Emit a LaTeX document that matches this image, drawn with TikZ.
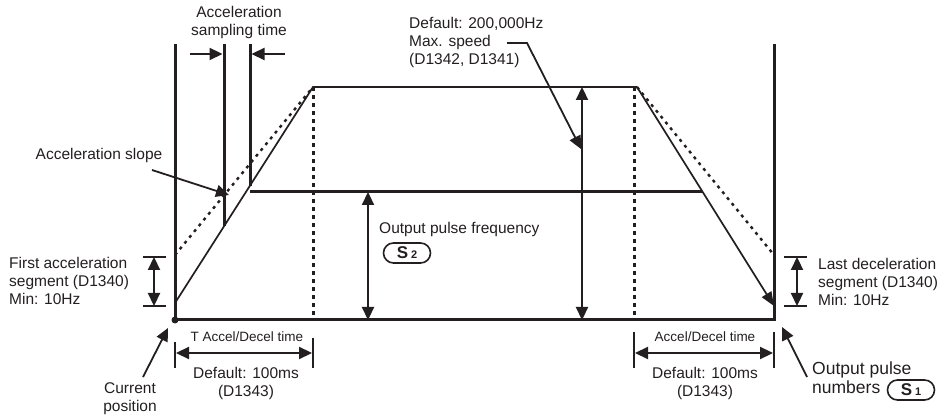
\documentclass[tikz,border=0pt]{standalone}
\usepackage{fontspec}
\setmainfont{Liberation Sans}
\usetikzlibrary{arrows.meta}
\definecolor{ink}{RGB}{35,31,32}
\begin{document}
\begin{tikzpicture}[x=1pt,y=-1pt,
  thickline/.style={draw=ink,line width=3pt},
  rampline/.style={draw=ink,line width=1.7pt},
  dashramp/.style={draw=ink,line width=2.4pt,dash pattern=on 3pt off 4.5pt},
  dotv/.style={draw=ink,line width=3pt,dash pattern=on 4pt off 4pt},
  tip/.style={Triangle[length=13pt,width=12pt]},
  arr/.style={draw=ink,line width=2.2pt,-{Triangle[length=13pt,width=12pt]}},
  darr/.style={draw=ink,line width=2.2pt,{Triangle[length=13pt,width=12pt]}-{Triangle[length=13pt,width=12pt]}},
  barline/.style={draw=ink,line width=2.6pt},
  lbl/.style={inner sep=0pt,text=ink,font=\fontsize{15.5}{18}\selectfont},
  smalllbl/.style={inner sep=0pt,text=ink,font=\fontsize{13.5}{16}\selectfont},
  biglbl/.style={inner sep=0pt,text=ink,font=\fontsize{17.5}{19}\selectfont},
  badge/.style={draw=ink,line width=1.6pt,rounded corners=10pt,minimum width=47pt,minimum height=20pt,inner sep=0pt,text=ink}
]
\useasboundingbox (0,0) rectangle (939,419);
% key points
\coordinate (O) at (175,320);
\coordinate (E) at (774,320);
\coordinate (Ltop) at (175,44);
\coordinate (Rtop) at (774,44);
\coordinate (P1) at (313,87);
\coordinate (P2) at (637,87);
\coordinate (R0) at (175,303);
\coordinate (D0) at (175,255);
\coordinate (Rend) at (774,306);
\coordinate (Dend) at (774,255);
\coordinate (S1t) at (224,44);
\coordinate (S1b) at (224,226);
\coordinate (S2t) at (250,44);
\coordinate (S2b) at (250,186);
\coordinate (M1) at (250,192);
\coordinate (M2) at (702,192);
\coordinate (V1t) at (313,87);
\coordinate (V1b) at (313,320);
\coordinate (V2t) at (634,87);
\coordinate (V2b) at (634,320);
% frame lines
\draw[thickline] (Ltop) -- (O) -- (E) -- (Rtop);
\draw[thickline] (S1t) -- (S1b);
\draw[thickline] (S2t) -- (S2b);
\draw[thickline] (M1) -- (M2);
\draw[dotv] (V1t) -- (V1b);
\draw[dotv] (V2t) -- (V2b);
% profile
\draw[rampline] (R0) -- (P1) -- (P2);
\draw[dashramp] (D0) -- (P1);
\draw[dashramp] (P2) -- (Dend);
\draw[rampline,-{Triangle[length=14pt,width=11pt]}] (P2) -- (Rend);
\fill[ink] (O) circle (3.5);
% sampling time
\coordinate (sa1) at (190,54);
\coordinate (sa2) at (222.5,54);
\coordinate (sb1) at (285,54);
\coordinate (sb2) at (251.5,54);
\draw[arr] (sa1) -- (sa2);
\draw[arr] (sb1) -- (sb2);
\node[lbl,align=center] (samp) at (239,22.5) {Acceleration\\sampling time};
% acceleration slope
\node[lbl] (slope) at (99,155) {Acceleration slope};
\coordinate (slopetip) at (229,195);
\draw[arr,line width=1.8pt] (152,170) -- (slopetip);
% max speed
\node[lbl,align=left,anchor=north west] (maxs) at (409,17) {Default: 200,000Hz\\Max. speed\\(D1342, D1341)};
\coordinate (ms1) at (507,43);
\coordinate (ms2) at (527,43);
\coordinate (mstip) at (581,149);
\draw[arr,line width=1.8pt] (ms1) -- (ms2) -- (mstip);
\coordinate (mxt) at (582,87);
\coordinate (mxb) at (582,320);
\draw[darr] (mxt) -- (mxb);
% output pulse frequency
\coordinate (oft) at (368,192);
\coordinate (ofb) at (368,320);
\draw[darr] (oft) -- (ofb);
\node[lbl,anchor=west] (opf) at (379,229) {Output pulse frequency};
\node[badge] (s2) at (407,253) {\fontsize{17}{17}\selectfont\textbf{S}\,\fontsize{11}{11}\selectfont\textbf{2}};
% first acceleration segment
\coordinate (fa1) at (143,257); \coordinate (fa2) at (166,257);
\coordinate (fb1) at (143,306); \coordinate (fb2) at (166,306);
\draw[barline] (fa1) -- (fa2);
\draw[barline] (fb1) -- (fb2);
\coordinate (fat) at (154,257); \coordinate (fab) at (154,306);
\draw[darr] (fat) -- (fab);
\node[lbl,align=left,anchor=west] (firsttxt) at (9,281) {First acceleration\\segment (D1340)\\Min: 10Hz};
% last deceleration segment
\coordinate (la1) at (784,257); \coordinate (la2) at (807,257);
\coordinate (lb1) at (784,306); \coordinate (lb2) at (807,306);
\draw[barline] (la1) -- (la2);
\draw[barline] (lb1) -- (lb2);
\coordinate (lat) at (797,257); \coordinate (lab) at (797,306);
\draw[darr] (lat) -- (lab);
\node[lbl,align=left,anchor=west] (lasttxt) at (818,282) {Last deceleration\\segment (D1340)\\Min: 10Hz};
% current position
\node[lbl,align=center] (cur) at (130,399) {Current\\position};
\coordinate (curtip) at (168,328);
\draw[arr,line width=1.8pt] (143,377) -- (curtip);
% output pulse numbers
\node[biglbl,align=left,anchor=west] (opn) at (812,377.5) {Output pulse\\numbers};
\node[badge] (s1) at (911,390) {\fontsize{17}{17}\selectfont\textbf{S}\,\fontsize{11}{11}\selectfont\textbf{1}};
\coordinate (opntip) at (782,327);
\draw[arr,line width=1.8pt] (807,377) -- (opntip);
% time dimension left
\coordinate (tl1) at (175,342); \coordinate (tl2) at (175,368);
\coordinate (tr1) at (313,338); \coordinate (tr2) at (313,368);
\draw[barline] (tl1) -- (tl2);
\draw[barline] (tr1) -- (tr2);
\coordinate (tla) at (176,353); \coordinate (tlb) at (312,353);
\draw[darr] (tla) -- (tlb);
\node[smalllbl] (tlt) at (247,337) {T Accel/Decel time};
\node[lbl,align=center] (tld) at (246,383) {Default: 100ms\\(D1343)};
% time dimension right
\coordinate (ul1) at (634,332); \coordinate (ul2) at (634,368);
\coordinate (ur1) at (774,332); \coordinate (ur2) at (774,368);
\draw[barline] (ul1) -- (ul2);
\draw[barline] (ur1) -- (ur2);
\coordinate (ula) at (635,353); \coordinate (ulb) at (773,353);
\draw[darr] (ula) -- (ulb);
\node[smalllbl] (urt) at (705,337) {Accel/Decel time};
\node[lbl,align=center] (urd) at (705,383) {Default: 100ms\\(D1343)};
\end{tikzpicture}
\end{document}
